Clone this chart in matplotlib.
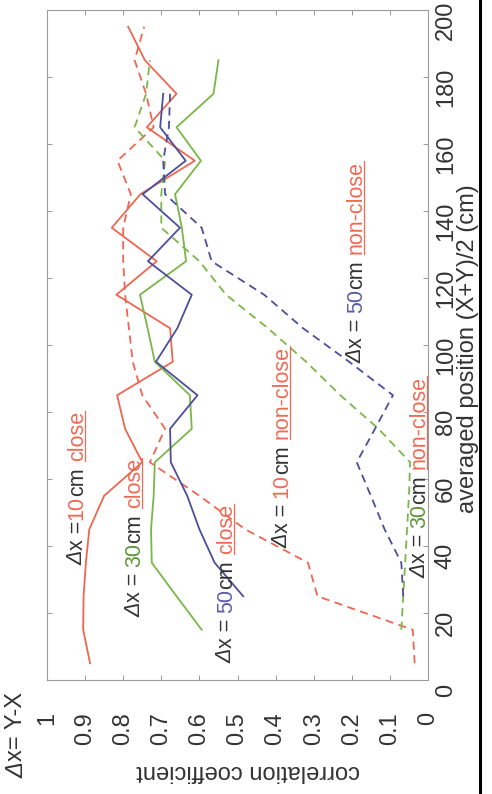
import matplotlib
matplotlib.use("Agg")
import matplotlib.pyplot as plt
from matplotlib.lines import Line2D
from matplotlib.transforms import ScaledTranslation, IdentityTransform

plt.rcParams['font.family'] = ['Liberation Sans', 'DejaVu Sans']

# averaged position (cm) for each separation
pos_10 = [5, 15, 25, 35, 45, 55, 65, 75, 85, 95, 105, 115, 125, 135, 145, 155, 165, 175, 185, 195]
pos_30 = [15, 25, 35, 45, 55, 65, 75, 85, 95, 105, 115, 125, 135, 145, 155, 165, 175, 185]
pos_50 = [25, 35, 45, 55, 65, 75, 85, 95, 105, 115, 125, 135, 145, 155, 165, 175]

# correlation coefficients
corr_10_close = [0.887, 0.905, 0.904, 0.898, 0.889, 0.85, 0.75, 0.795, 0.816, 0.67, 0.677, 0.818,
                 0.712, 0.83, 0.755, 0.612, 0.738, 0.66, 0.743, 0.787]
corr_10_nonclose = [0.035, 0.04, 0.29, 0.315, 0.48, 0.60, 0.73, 0.69, 0.75, 0.775, 0.785, 0.795,
                    0.80, 0.80, 0.78, 0.815, 0.72, 0.74, 0.77, 0.745]
corr_30_close = [0.594, 0.66, 0.725, 0.727, 0.72, 0.717, 0.62, 0.625, 0.717, 0.736, 0.756, 0.635,
                 0.646, 0.664, 0.596, 0.66, 0.563, 0.55]
corr_30_nonclose = [0.07, 0.065, 0.06, 0.055, 0.05, 0.047, 0.13, 0.23, 0.32, 0.42, 0.53, 0.60,
                    0.70, 0.70, 0.69, 0.77, 0.74, 0.73]
corr_50_close = [0.485, 0.56, 0.60, 0.632, 0.675, 0.677, 0.605, 0.714, 0.658, 0.62, 0.735, 0.651,
                 0.749, 0.636, 0.703, 0.695]
corr_50_nonclose = [0.065, 0.07, 0.114, 0.15, 0.187, 0.139, 0.092, 0.207, 0.328, 0.43, 0.568, 0.594,
                    0.69, 0.695, 0.68, 0.677]

corr_ticks = [0, 0.1, 0.2, 0.3, 0.4, 0.5, 0.6, 0.7, 0.8, 0.9, 1]
corr_tick_labels = ['0', '0.1', '0.2', '0.3', '0.4', '0.5', '0.6', '0.7', '0.8', '0.9', '1']
pos_ticks = [0, 20, 40, 60, 80, 100, 120, 140, 160, 180, 200]

RED = '#ef6650'
GREEN = '#7ab648'
BLUE = '#4b4f9b'
DARK = '#333333'
TXT_RED = '#f06a55'
TXT_GREEN = '#5e9636'
TXT_BLUE = '#5a5ea8'

fig = plt.figure(figsize=(4.92, 7.94), dpi=100)
ax = fig.add_axes([47/492, 1-680/794, 381/492, 670/794])

dash = (0, (4.5, 3.0))
ax.plot(corr_10_close, pos_10, color=RED, lw=1.3)
ax.plot(corr_10_nonclose, pos_10, color=RED, lw=1.3, ls=dash)
ax.plot(corr_30_close, pos_30, color=GREEN, lw=1.3)
ax.plot(corr_30_nonclose, pos_30, color=GREEN, lw=1.3, ls=dash)
ax.plot(corr_50_close, pos_50, color=BLUE, lw=1.3)
ax.plot(corr_50_nonclose, pos_50, color=BLUE, lw=1.3, ls=dash)

ax.set_xlim(1, 0)
ax.set_ylim(0, 200)
ax.set_xticks(corr_ticks)
ax.set_xticklabels(corr_tick_labels)
ax.set_yticks(pos_ticks)

for s in ax.spines.values():
    s.set_color('#9a9a9a')
    s.set_linewidth(0.8)

ax.tick_params(axis='both', direction='in', length=3.5, width=0.7, color='#9a9a9a',
               labelsize=17, labelcolor=DARK, top=True, right=True)
ax.tick_params(axis='x', labelrotation=90, pad=23)
ax.tick_params(axis='y', labelleft=False, labelright=True, labelrotation=90, pad=5)

# position labels sit a little below their ticks in the original
shift = ScaledTranslation(0, -0.1, fig.dpi_scale_trans)
for t in ax.yaxis.get_major_ticks():
    t.label2.set_verticalalignment('center')
    t.label2.set_transform(t.label2.get_transform() + shift)

ax.set_xlabel('correlation coefficient', fontsize=17, color=DARK, rotation=180)
ax.xaxis.set_label_coords(0.528, -0.119)
ax.yaxis.set_label_position('right')
ax.set_ylabel('averaged position (X+Y)/2 (cm)', fontsize=17, color=DARK, rotation=90)
ax.yaxis.set_label_coords(1.076, 0.494)


def vertical_label(x, y, pieces, size=15.5, transform=None):
    # pieces: (text, colour, italic, gap before it in points)
    parts = []
    txt = None
    for s, c, italic, gap in pieces:
        kw = dict(color=c, fontsize=size, rotation=90, va='bottom', ha='left',
                  style='italic' if italic else 'normal')
        if txt is None:
            txt = ax.text(x, y, s, transform=transform or ax.transAxes, **kw)
        else:
            txt = ax.annotate(s, xy=(0, 1), xycoords=txt, xytext=(0, gap),
                              textcoords='offset points', **kw)
        parts.append(txt)
    return parts


underlined = []
specs = [
    (0.052, 0.172, '10', TXT_RED, 'close', 0.3),
    (0.202, 0.094, '30', TXT_GREEN, 'close', 4.0),
    (0.443, 0.025, '50', TXT_BLUE, 'close', 4.0),
    (0.590, 0.197, '10', TXT_RED, 'non-close', 4.0),
    (0.784, 0.473, '50', TXT_BLUE, 'non-close', 4.0),
    (0.950, 0.152, '30', TXT_GREEN, 'non-close', 4.0),
]
for x, y, num, ncol, word, g in specs:
    parts = vertical_label(x, y, [('Δ', DARK, True, 0), ('x =', DARK, False, 0.5),
                                  (num, ncol, False, g), ('cm', DARK, False, 0.2),
                                  (word, TXT_RED, False, 4.5)])
    underlined.append(parts[-1])

# Δx = Y-X note in the lower left corner
vertical_label(5/492, 16/794, [('Δ', DARK, True, 0), ('x= Y-X', DARK, False, 0.5)], size=17,
               transform=fig.transFigure)

# page edge
fig.add_artist(Line2D([480/492, 480/492], [0, 1], color='black', lw=2.2,
                      transform=fig.transFigure))

fig.canvas.draw()
r = fig.canvas.get_renderer()
for t in underlined:
    bb = t.get_window_extent(r)
    fig.add_artist(Line2D([bb.x1 - 3, bb.x1 - 3], [bb.y0, bb.y1], color=TXT_RED,
                          lw=0.9, transform=IdentityTransform()))

fig.savefig('out.png', dpi=100)
